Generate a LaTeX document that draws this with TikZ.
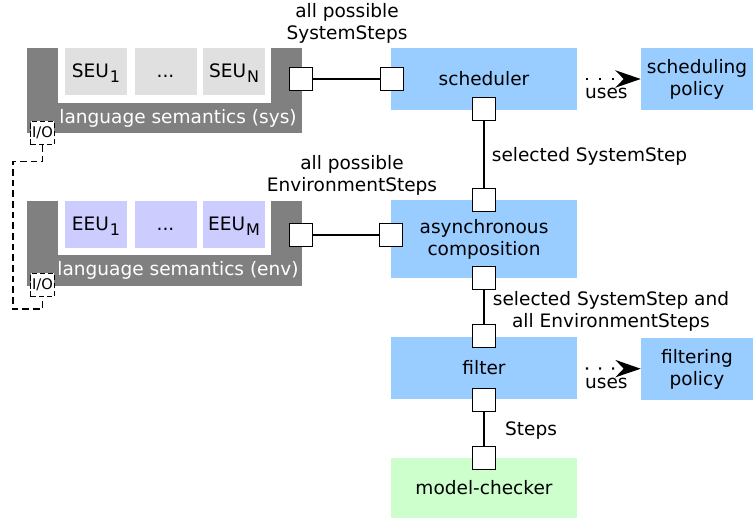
\documentclass[tikz,border=0pt]{standalone}
\usepackage{fontspec}
\setmainfont{DejaVu Sans}
\usetikzlibrary{positioning, arrows.meta}
\definecolor{langgray}{HTML}{808080}
\definecolor{unitgray}{HTML}{E0E0E0}
\definecolor{unitblue}{HTML}{CCCCFF}
\definecolor{compblue}{HTML}{99CCFF}
\definecolor{checkgreen}{HTML}{CCFFCC}
\newcommand{\unitidx}[1]{\kern0.8pt\raisebox{-0.5ex}{\fontsize{12}{12}\selectfont #1}}
\tikzset{
    lang/.style = {fill = langgray, minimum width = 206.25pt, minimum height = 63.75pt},
    unit/.style = {minimum width = 46.5pt, minimum height = 35.25pt, inner sep = 0, text height = 10pt, text depth = 1pt},
    comp/.style = {fill = compblue, align = center, minimum width = 139.5pt, minimum height = 46.5pt},
    policy/.style = {fill = compblue, align = center, minimum width = 84pt, minimum height = 46.5pt},
    port/.style = {draw, fill = white, line width = 1.1pt, minimum size = 17.25pt, inner sep = 0},
    io/.style = {draw, dash pattern = on 4pt off 2pt, fill = white, line width = 0.9pt, minimum size = 17.5pt, inner sep = 0, font = \fontsize{11}{11}\selectfont},
    link/.style = {line width = 1.1pt},
    uses/.style = {line width = 1.7pt, dash pattern = on 1.6pt off 8.2pt, -{Stealth[length = 19pt, width = 13pt]}, shorten <= 6.5pt},
    note/.style = {align = center}
}

\begin{document}
\begin{tikzpicture}
        [
            x = 0.75pt, y = -0.75pt,
            font = \fontsize{13.9}{16.5}\selectfont
        ]
        \useasboundingbox (0,0) rectangle (753,518);
        % language semantics (sys)
        \node[lang]                                 (syslang)  at (164.5,90.5) {};
        \fill[white] (58,48) rectangle (271,103);
        \node[text = white]                         (syssem)   at (178,118)    {language semantics (sys)};
        \node[unit, fill = unitgray]                (seuA)     at (96,71.5)    {SEU\unitidx{1}};
        \node[unit, fill = unitgray, right = 5.25pt of seuA]  (seuDots)  {...};
        \node[unit, fill = unitgray, right = 4.5pt of seuDots] (seuN)    {SEU\unitidx{N}};
        % language semantics (env)
        \node[lang]                                 (envlang)  at (164.5,243)  {};
        \fill[white] (58,201) rectangle (271,255);
        \node[text = white]                         (envsem)   at (178,270)    {language semantics (env)};
        \node[unit, fill = unitblue]                (eeuA)     at (96,224)     {EEU\unitidx{1}};
        \node[unit, fill = unitblue, right = 5.25pt of eeuA]  (eeuDots)  {...};
        \node[unit, fill = unitblue, right = 4.5pt of eeuDots] (eeuM)    {EEU\unitidx{M}};
        % components
        \node[comp]                                 (sched)    at (484,79)     {scheduler};
        \node[comp, minimum height = 58.5pt]        (async)    at (484,239)    {asynchronous\\composition};
        \node[comp]                                 (filter)   at (484,368)    {filter};
        \node[comp, fill = checkgreen, minimum height = 45pt] (checker) at (484,488) {model-checker};
        \node[policy]                               (schedpol) at (697,79)     {scheduling\\policy};
        \node[policy]                               (filtpol)  at (697,369)    {filtering\\policy};
        % ports
        \node[port] (sysout)     at (301,79)  {};
        \node[port] (schedin)    at (392,79)  {};
        \node[port] (schedout)   at (484,109) {};
        \node[port] (asyncsel)   at (484,200) {};
        \node[port] (envout)     at (301,235) {};
        \node[port] (asyncenv)   at (391,235) {};
        \node[port] (asyncout)   at (484,278) {};
        \node[port] (filterin)   at (484,336) {};
        \node[port] (filterout)  at (484,400) {};
        \node[port] (checkerin)  at (484,458) {};
        % I/O
        \node[io]   (iosys)      at (42.5,133) {I/O};
        \node[io]   (ioenv)      at (42.5,285) {I/O};
        \coordinate (ioturn)     at (13,309);
        % connectors
        \draw[link] (sysout)    -- (schedin);
        \draw[link] (envout)    -- (asyncenv);
        \draw[link] (schedout)  -- node[note, right = 2pt, yshift = -1.5pt] {selected SystemStep} (asyncsel);
        \draw[link] (asyncout)  -- (filterin);
        \draw[link] (filterout) -- node[note, right = 12pt, yshift = -1.5pt] {Steps} (checkerin);
        \draw[link, dash pattern = on 5pt off 3pt] (iosys.south) -- ++(0,16) -| (ioturn) -| (ioenv.south);
        \draw[uses] (sched)  -- node[below = 3pt, xshift = -2pt] {uses} (schedpol);
        \draw[uses] (filter) -- node[below = 3pt, xshift = -2pt] {uses} (filtpol);
        % labels
        \node[note] (sysnote)  at (347,23)  {all possible\\SystemSteps};
        \node[note] (envnote)  at (352,175) {all possible\\EnvironmentSteps};
        \node[note] (bothnote) at (611,311) {selected SystemStep and\\all EnvironmentSteps};
    \end{tikzpicture}
\end{document}
